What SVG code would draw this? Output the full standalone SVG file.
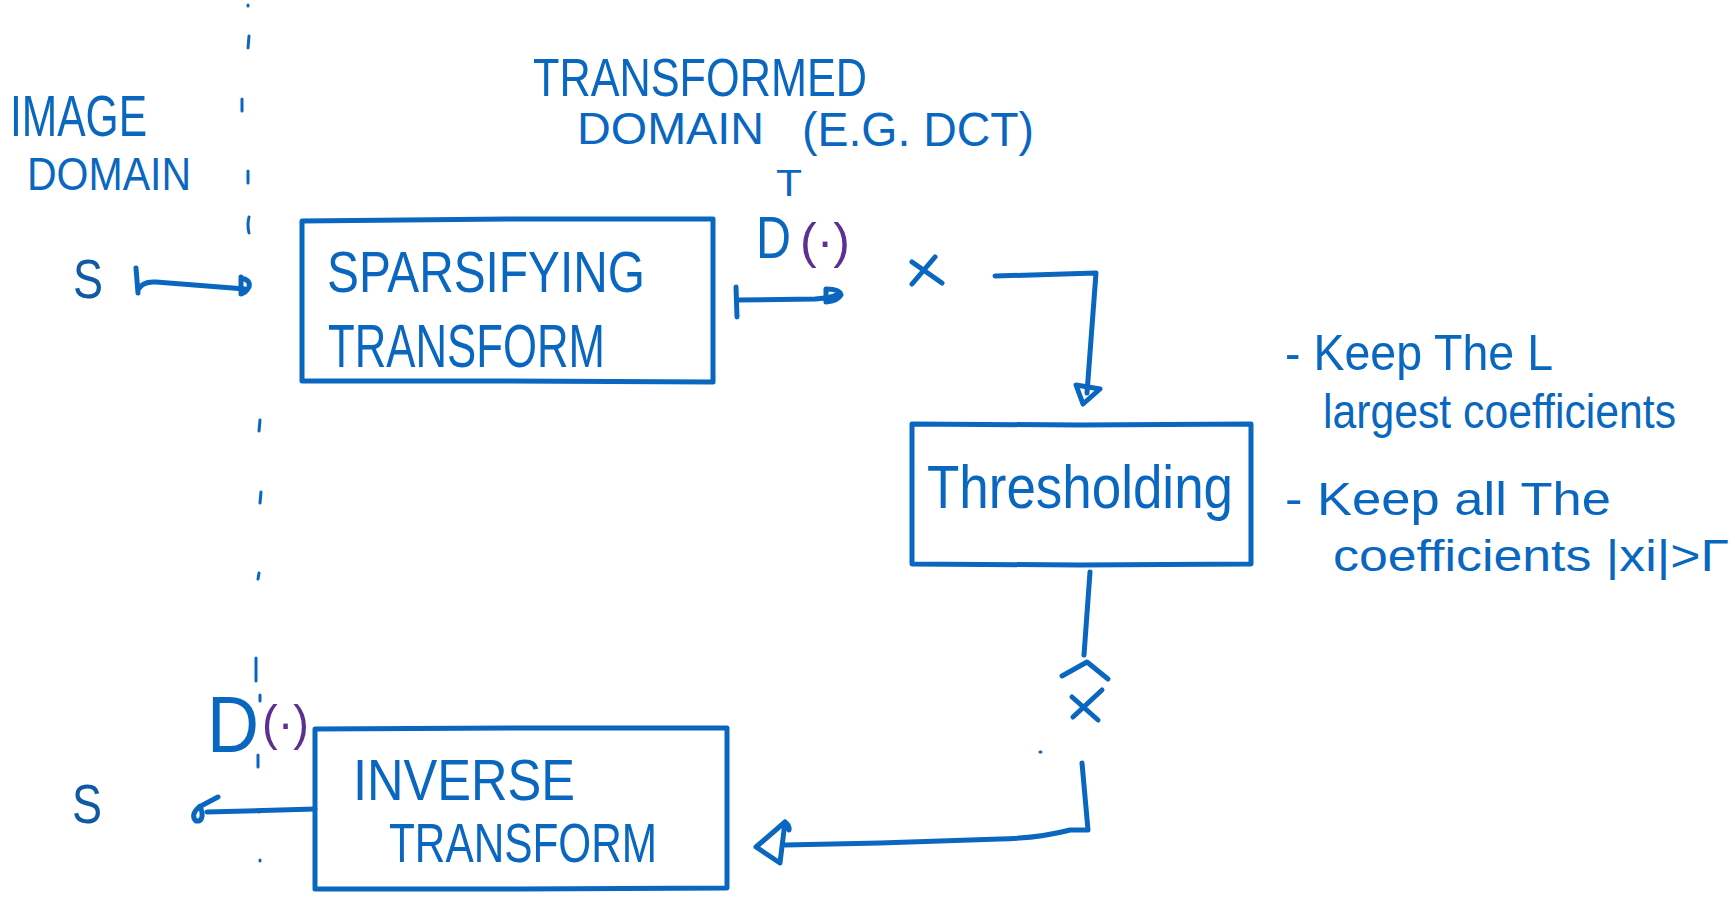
<svg xmlns="http://www.w3.org/2000/svg" width="1735" height="904" viewBox="0 0 1735 904">
<style>
.ink{fill:none;stroke:#0a67c0;stroke-width:5;stroke-linecap:round;stroke-linejoin:round}
.thin{fill:none;stroke:#0a67c0;stroke-width:3;stroke-linecap:round}
.t{font-family:"Liberation Sans","DejaVu Sans",sans-serif;fill:#0a67c0}
.dk{fill:#0f5aa3}
.pu{fill:#5b2f93}
</style>
<rect width="1735" height="904" fill="#ffffff"/>
<g id="domain-divider">
<path class="thin" d="M248,5 L248,6 M249,36 L248,48 M242,99 L242,111 M248,171 L248,183 M249,217 Q247,225 249,233 M260,420 L259,431 M261,492 L260,503 M259,573 L258,579 M256,658 L256,681 M260,695 L260,701 M258,755 L258,767 M259,811 L259,812 M260,860 L260,861"/>
</g>
<g id="labels">
<text class="t" x="10" y="136" font-size="58" textLength="137" lengthAdjust="spacingAndGlyphs">IMAGE</text>
<text class="t" x="27" y="190" font-size="46" textLength="164" lengthAdjust="spacingAndGlyphs">DOMAIN</text>
<text class="t" x="533" y="96" font-size="54" textLength="334" lengthAdjust="spacingAndGlyphs">TRANSFORMED</text>
<text class="t" x="577" y="144" font-size="45" textLength="187" lengthAdjust="spacingAndGlyphs">DOMAIN</text>
<text class="t" x="802" y="146" font-size="48" textLength="232" lengthAdjust="spacingAndGlyphs">(E.G. DCT)</text>
</g>
<g id="input-s">
<text class="t dk" x="73" y="298" font-size="56" textLength="30" lengthAdjust="spacingAndGlyphs">S</text>
</g>
<g id="sparsifying-transform">
<path class="ink" d="M302,221 L508,219 L713,219 L713,300 L713,382 L508,381 L302,381 Z"/>
<text class="t" x="327" y="292" font-size="58" textLength="318" lengthAdjust="spacingAndGlyphs">SPARSIFYING</text>
<text class="t" x="328" y="367" font-size="62" textLength="277" lengthAdjust="spacingAndGlyphs">TRANSFORM</text>
</g>
<g id="dt-label">
<text class="t" x="756" y="258" font-size="60" textLength="35" lengthAdjust="spacingAndGlyphs">D</text>
<text class="t" x="776" y="196" font-size="36" textLength="26" lengthAdjust="spacingAndGlyphs">T</text>
<text class="t pu" x="800" y="258" font-size="50" textLength="50" lengthAdjust="spacingAndGlyphs">(·)</text>
</g>
<g id="x-coeffs">
<path class="ink" d="M912,262 L942,283 M935,257 L912,284"/>
</g>
<g id="thresholding">
<path class="ink" d="M912,424 L1080,425 L1251,424 L1251,494 L1251,564 L1080,565 L912,564 Z"/>
<text class="t" x="927" y="508" font-size="61" textLength="306" lengthAdjust="spacingAndGlyphs">Thresholding</text>
</g>
<g id="notes">
<text class="t" x="1285" y="370" font-size="50" textLength="268" lengthAdjust="spacingAndGlyphs">- Keep The L</text>
<text class="t" x="1323" y="428" font-size="48" textLength="353" lengthAdjust="spacingAndGlyphs">largest coefficients</text>
<text class="t" x="1285" y="515" font-size="46" textLength="326" lengthAdjust="spacingAndGlyphs">- Keep all The</text>
<text class="t" x="1333" y="571" font-size="44" textLength="396" lengthAdjust="spacingAndGlyphs">coefficients |xi|&gt;Γ</text>
</g>
<g id="x-hat">
<path class="ink" d="M1062,676 L1087,662 L1108,679 M1072,697 L1098,720 M1102,690 L1073,717"/>
<path class="thin" d="M1040,752 L1041,752"/>
</g>
<g id="inverse-transform">
<path class="ink" d="M315,729 L520,728 L727,728 L727,808 L727,888 L520,889 L315,889 Z"/>
<text class="t" x="353" y="800" font-size="58" textLength="222" lengthAdjust="spacingAndGlyphs">INVERSE</text>
<text class="t" x="389" y="862" font-size="56" textLength="268" lengthAdjust="spacingAndGlyphs">TRANSFORM</text>
</g>
<g id="d-label">
<text class="t" x="207" y="752" font-size="80" textLength="52" lengthAdjust="spacingAndGlyphs">D</text>
<text class="t pu" x="262" y="740" font-size="50" textLength="47" lengthAdjust="spacingAndGlyphs">(·)</text>
</g>
<g id="output-s">
<text class="t dk" x="72" y="823" font-size="56" textLength="30" lengthAdjust="spacingAndGlyphs">S</text>
</g>
<g id="connectors">
<path class="ink" d="M136,268 L138,293 M138,290 Q142,281 156,282 L245,289"/>
<path class="ink" d="M241,277 L241,294 M241,278 Q251,280 249,287 Q246,293 241,294"/>
<path class="ink" d="M736,287 L737,317 M737,300 L815,299 Q833,298 838,294"/>
<path class="ink" d="M826,289 L826,302 M826,289 Q840,289 841,295 Q838,301 826,302"/>
<path class="ink" d="M995,276 L1096,273 L1087,393"/>
<path class="ink" d="M1076,385 L1100,389 L1083,404 Z"/>
<path class="ink" d="M1090,572 L1084,655"/>
<path class="ink" d="M1082,763 L1088,830 L1070,830 Q1040,838 1000,839 L880,843 L785,845"/>
<path class="ink" d="M756,847 L785,822 L780,863 Z M785,822 Q790,826 789,830"/>
<path class="ink" d="M315,809 L207,812"/>
<path class="ink" d="M218,797 L199,807 Q190,815 196,821 Q203,822 202,812 L200,806"/>
</g>
</svg>
